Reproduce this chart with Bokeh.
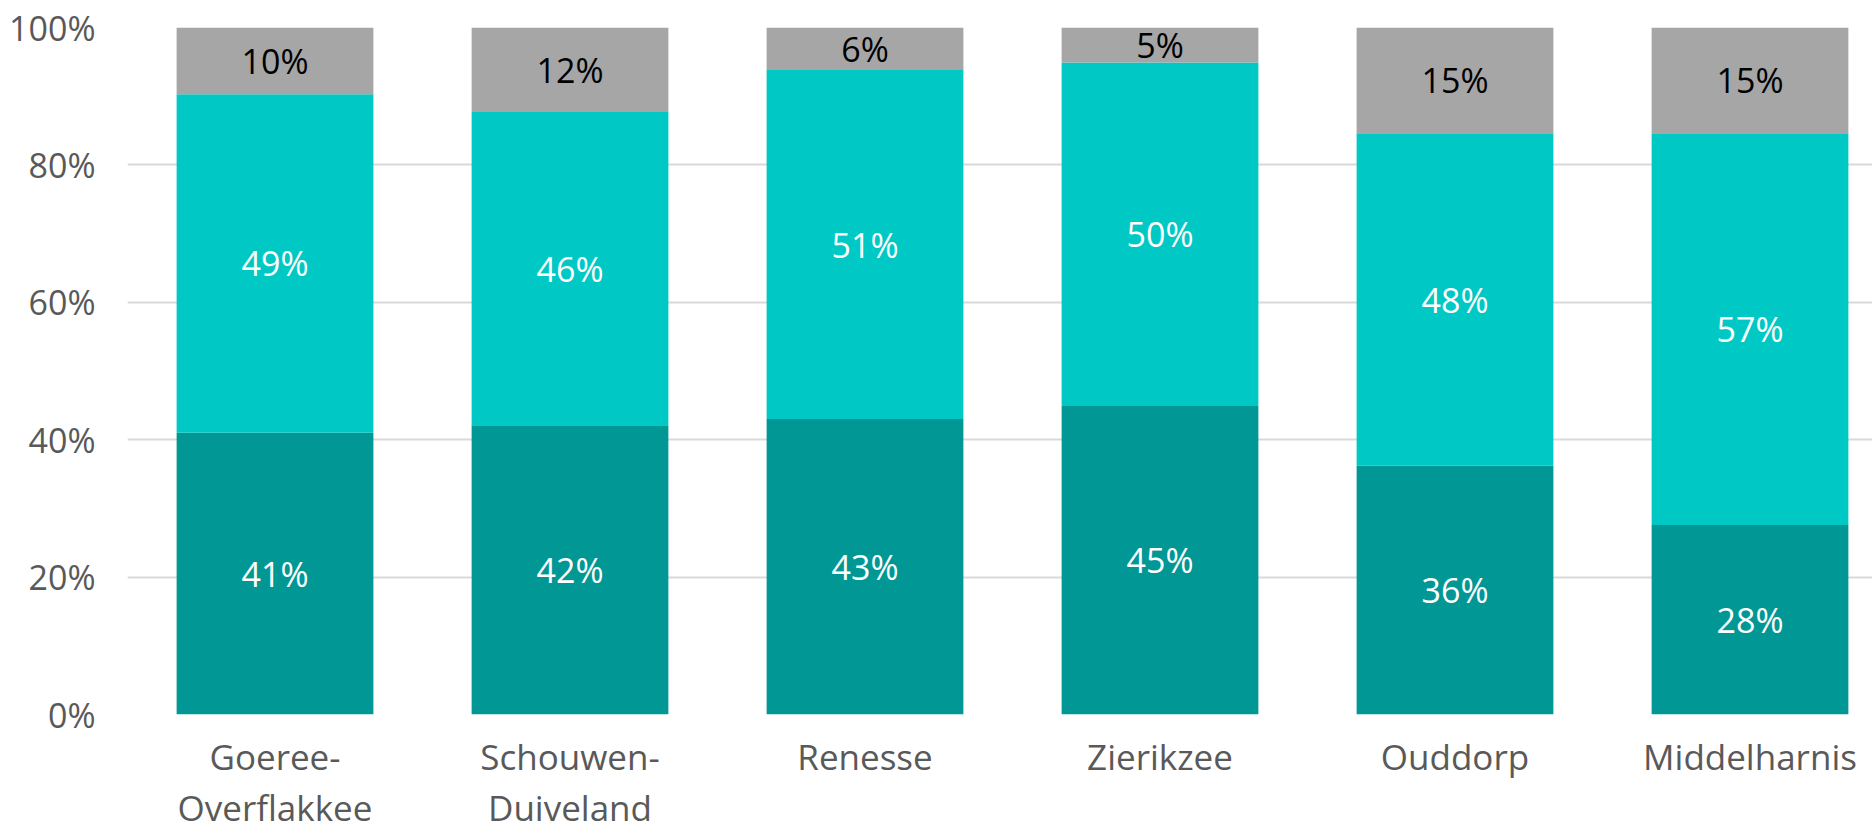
from bokeh.plotting import figure
from bokeh.models import ColumnDataSource, Range1d, FixedTicker, PrintfTickFormatter
from bokeh.core.properties import value
from bokeh.embed import file_html
from bokeh.resources import INLINE

# ---- data ----
categories = ["Goeree-\nOverflakkee", "Schouwen-\nDuiveland", "Renesse", "Zierikzee", "Ouddorp", "Middelharnis"]
share_dark = [41.0, 42.1, 43.0, 44.9, 36.2, 27.6]
share_mid = [49.3, 45.6, 50.8, 50.0, 48.4, 57.0]
share_grey = [9.7, 12.3, 6.2, 5.1, 15.4, 15.4]
y_ticks = [0, 20, 40, 60, 80, 100]

colors = ["#009795", "#00C8C5", "#A6A6A6"]
label_colors = ["#FFFFFF", "#FFFFFF", "#000000"]
FONT = "Open Sans"

xs = list(range(len(categories)))
series = [share_dark, share_mid, share_grey]

W, H = 1872, 834
LEFT, TOP, BOTTOM = 127, 27, 118
p = figure(width=W, height=H, output_backend="svg", toolbar_location=None,
           x_range=Range1d(-0.5, -0.5 + (W - LEFT) / 295), y_range=Range1d(0, 100))
p.min_border_left = LEFT
p.min_border_right = 0
p.min_border_top = TOP
p.min_border_bottom = BOTTOM
p.outline_line_color = None
p.background_fill_color = "white"
p.border_fill_color = "white"

bottom = [0.0] * len(xs)
lx, ly, lt, lc = [], [], [], []
for vals, col, lcol in zip(series, colors, label_colors):
    top = [b + v for b, v in zip(bottom, vals)]
    src = ColumnDataSource(dict(x=xs, bottom=bottom, top=top))
    p.vbar(x="x", bottom="bottom", top="top", width=0.667, source=src,
           fill_color=col, line_color=None)
    for i, (b, v) in enumerate(zip(bottom, vals)):
        lx.append(xs[i])
        ly.append(b + v / 2)
        lt.append(f"{round(v)}%")
        lc.append(lcol)
    bottom = top

lsrc = ColumnDataSource(dict(x=lx, y=ly, text=lt, color=lc))
p.text(x="x", y="y", text="text", text_color="color", source=lsrc,
       text_font=value(FONT), text_font_size="34px", text_align="center",
       text_baseline="middle")

# axes
p.xaxis.ticker = FixedTicker(ticks=xs)
p.xaxis.major_label_overrides = {i: c for i, c in zip(xs, categories)}
p.yaxis.ticker = FixedTicker(ticks=y_ticks)
p.yaxis.formatter = PrintfTickFormatter(format="%d%%")
for ax in (p.xaxis, p.yaxis):
    ax.axis_line_color = None
    ax.major_tick_line_color = None
    ax.minor_tick_line_color = None
    ax.major_label_text_font = FONT
    ax.major_label_text_color = "#595959"
p.yaxis.major_label_text_font_size = "34px"
p.xaxis.major_label_text_font_size = "35px"
p.xaxis.major_label_text_line_height = 1.1
p.xaxis.major_label_standoff = 12
p.yaxis.major_label_standoff = 26

p.xgrid.grid_line_color = None
p.ygrid.grid_line_color = "#D9D9D9"
p.ygrid.grid_line_width = 2
p.ygrid.level = "underlay"

open("out.html", "w").write(file_html(p, INLINE))
